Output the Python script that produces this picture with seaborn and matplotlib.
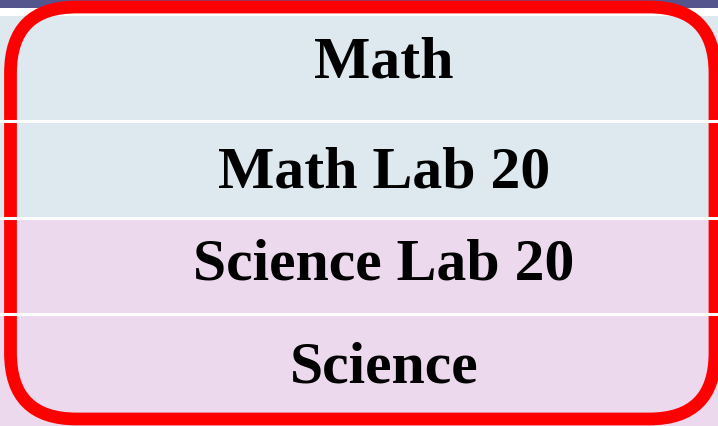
import matplotlib
matplotlib.use("Agg")
import matplotlib.pyplot as plt
from matplotlib.patches import FancyBboxPatch
import seaborn as sns

# table content
labels = ["Math", "Math Lab 20", "Science Lab 20", "Science"]
subjects = ["Math", "Math", "Science", "Science"]

# layout (pixels from the top of the image)
row_edges = [17, 122, 219, 315, 440]
baselines = [78, 188, 280, 383]
subject_colors = {"Math": "#dee8ef", "Science": "#edd9ed"}

sns.set_theme(style="white")
fig = plt.figure(figsize=(7.18, 4.27), dpi=100)
ax = fig.add_axes([0, 0, 1, 1])
ax.set_xlim(0, 718)
ax.set_ylim(427, 0)
ax.axis("off")

# header band above the table
ax.axhspan(0, 9, color="#55558d", lw=0)
ax.axhspan(9, row_edges[0], color="white", lw=0)

# table rows
tops = row_edges[:-1]
heights = [b - t for t, b in zip(row_edges[:-1], row_edges[1:])]
ax.barh(tops, 740, height=heights, left=-10, align="edge",
        color=[subject_colors[s] for s in subjects], linewidth=0)
for y in row_edges[1:-1]:
    ax.axhline(y, color="white", lw=2.2)

for label, y in zip(labels, baselines):
    ax.text(384, y, label, ha="center", va="baseline",
            fontsize=43, fontweight="bold", family="Liberation Serif",
            color="black")

# red rounded highlight
border = FancyBboxPatch((10.5, 8), 704.5, 412,
                        boxstyle="round,pad=0,rounding_size=66",
                        facecolor="none", edgecolor="#ff0000", linewidth=9.2)
ax.add_patch(border)

fig.savefig("out.png", dpi=100)
